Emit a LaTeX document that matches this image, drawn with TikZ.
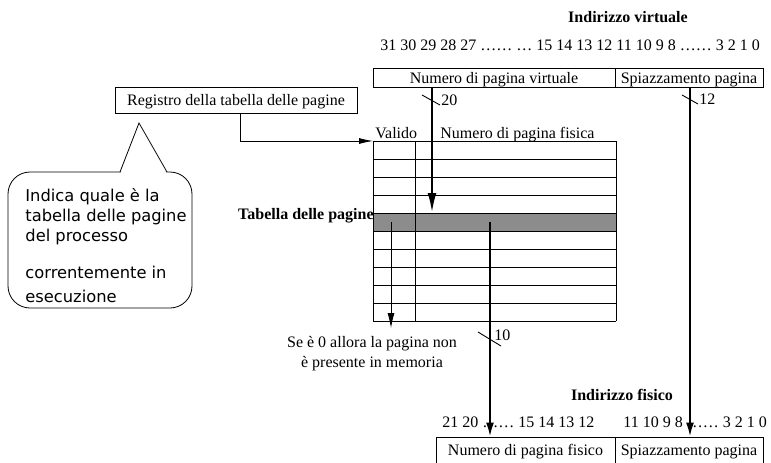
\documentclass[tikz,border=0pt]{standalone}
\usepackage{fontspec}
\setmainfont{Liberation Serif}
\newfontfamily\notefont{DejaVu Sans}
\usetikzlibrary{arrows.meta}

\begin{document}
\begin{tikzpicture}[x=1pt, y=-1pt, line width=0.8pt,
  txt/.style={font=\fontsize{16}{20}\selectfont, inner sep=0pt},
  ttl/.style={font=\fontsize{16}{20}\selectfont\bfseries, inner sep=0pt},
  field/.style={draw, txt, text height=11pt, text depth=0pt, minimum height=19pt},
  pfield/.style={draw, txt, text height=6pt, text depth=0pt, minimum height=30pt},
  bus/.style={line width=2pt, -{Latex[length=14pt,width=8pt]}},
  wire/.style={line width=0.8pt, -{Latex[length=14pt,width=7pt]}},
  tick/.style={line width=0.9pt},
  rowline/.style={line width=0.9pt},
  selrow/.style={fill=black!45},
]
\useasboundingbox (0,0) rectangle (771,463);
\clip (0,0) rectangle (771,463);

% ---- virtual address ----
\node[ttl, anchor=base] (vtitle) at (628,23) {Indirizzo virtuale};
\node[txt, anchor=base west] (vbits) at (380,50)
  {31 30 29 28 27 …… … 15 14 13 12 11 10 9 8 …… 3 2 1 0};
\node[field, minimum width=242pt] (vpage) at (494,77.5) {Numero di pagina virtuale};
\node[field, minimum width=148pt] (voff) at (689,77.5) {Spiazzamento pagina};

% ---- page table register ----
\node[draw, txt, text height=10pt, text depth=0pt, minimum width=242pt, minimum height=26pt]
  (reg) at (236,100) {Registro della tabella delle pagine};

% ---- page table ----
\coordinate (tabTL) at (373,141);
\coordinate (tabBR) at (616,321);
\fill[selrow] (373,213) rectangle (616,231);
\foreach \k in {0,...,10} {
  \draw[rowline] (373,141+18*\k) -- (616,141+18*\k);
}
\draw[rowline] (tabTL) -- (373,321);
\draw[rowline] (616,141) -- (tabBR);
\draw[rowline] (415,141) -- (415,321);
\node[txt, anchor=base west] (hvalid) at (375,138) {Valido};
\node[txt, anchor=base west] (hframe) at (440,138) {Numero di pagina fisica};
\node[ttl, anchor=base east] (ttitle) at (374,219) {Tabella delle pagine};

\coordinate (vpn) at (432,213);
\coordinate (vbit) at (391,222);
\coordinate (pfn) at (490,222);

% register -> table
\draw[wire, -{Latex[length=14pt,width=6pt]}] (reg.south -| 240,0) |- (tabTL);

% virtual page number -> table row
\draw[line width=2.6pt, -{Latex[length=20pt,width=9pt]}] (vpage.south -| vpn) -- (vpn);
\draw[tick] (422,95) -- (440,105);
\node[txt, anchor=base west] (n20) at (441,105) {20};

% valid bit
\node[txt, anchor=base, align=center] (miss) at (372,367)
  {Se è 0 allora la pagina non\\è presente in memoria};
\draw[wire, -{Latex[length=15pt,width=7pt]}] (vbit) -- (391,328);

% ---- physical address ----
\node[ttl, anchor=base] (ptitle) at (622,400.5) {Indirizzo fisico};
\node[txt, anchor=base west] (pbitsA) at (442,427) {21 20 …… 15 14 13 12};
\node[txt, anchor=base west] (pbitsB) at (623,427) {11 10 9 8 …… 3 2 1 0};
\node[pfield, minimum width=179pt] (ppage) at (525.5,452) {Numero di pagina fisico};
\node[pfield, minimum width=148pt] (poff) at (689,452) {Spiazzamento pagina};

% frame number -> physical address
\draw[bus] (pfn) -- (pfn |- ppage.north);
\draw[tick] (478,332) -- (501,346);
\node[txt, anchor=base west] (n10) at (494,340) {10};

% page offset copied unchanged
\draw[bus] (voff.south -| 690,0) -- (ppage.north -| 690,0);
\draw[tick] (682,95) -- (698,104);
\node[txt, anchor=base west] (n12) at (699,104) {12};

% ---- callout ----
\draw[fill=white, rounded corners=22pt] (8,172) rectangle (192,308);
\fill[white] (120.6,173) -- (139,124) -- (166.4,173) -- cycle;
\draw (120,172) -- (139,123) -- (167,172);
\node[font=\notefont\fontsize{16.3}{20}\selectfont, inner sep=0pt, anchor=north west, align=left]
  (note) at (25,188)
  {Indica quale è la\\tabella delle pagine\\del processo\\[17pt]correntemente in\\[4pt]esecuzione};
\end{tikzpicture}
\end{document}
